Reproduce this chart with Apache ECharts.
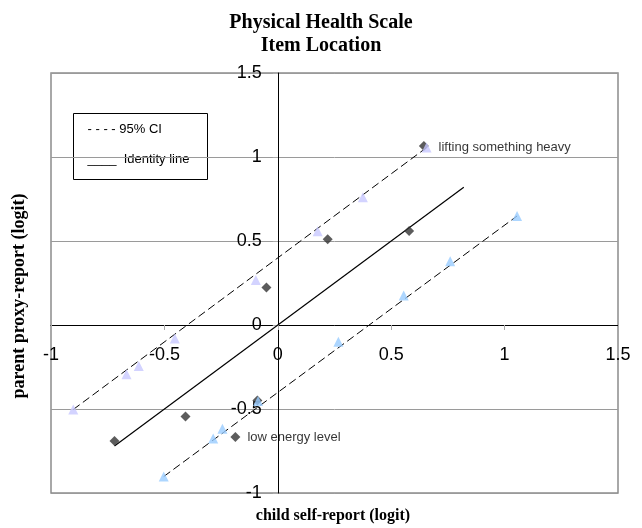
<!DOCTYPE html>
<html>
<head>
<meta charset="utf-8">
<script src="https://cdn.jsdelivr.net/npm/echarts@6/dist/echarts.min.js"></script>
<style>
  html, body { margin: 0; padding: 0; background: #fff; }
  #chart { width: 642px; height: 528px; }
</style>
</head>
<body>
<div id="chart"></div>
<script>
// Item locations: child self-report (x) vs parent proxy-report (y), in logits
const itemX = [-0.72, -0.407, -0.187, -0.09, -0.05, 0.22, 0.579, 0.644];
const itemY = [-0.69, -0.545, -0.667, -0.45, 0.223, 0.51, 0.560, 1.065];

// Upper 95% confidence limits
const upperX = [-0.902, -0.667, -0.613, -0.454, -0.097, 0.176, 0.375, 0.656];
const upperY = [-0.503, -0.293, -0.244, -0.081, 0.268, 0.558, 0.760, 1.056];

// Lower 95% confidence limits
const lowerX = [-0.503, -0.285, -0.244, -0.087, 0.267, 0.555, 0.76, 1.055];
const lowerY = [-0.902, -0.676, -0.617, -0.452, -0.10, 0.175, 0.38, 0.649];

// Identity line end points
const identityX = [-0.72, 0.82];
const identityY = [-0.72, 0.82];

// Axis ticks
const xTicks = [-1, -0.5, 0, 0.5, 1, 1.5];
const yTicks = [-1, -0.5, 0, 0.5, 1, 1.5];

// Labelled items
const labelledItems = [
  { series: 'upper', index: 7, text: 'lifting something heavy' },
  { series: 'item', index: 2, text: 'low energy level' }
];

const sansFont = '"Liberation Sans", Arial, sans-serif';
const serifFont = '"Liberation Serif", "Times New Roman", serif';

// Plot area box (pixels)
const W = 642, H = 528;
const grid = { left: 51, right: 24, top: 73, bottom: 35 };
const gridW = W - grid.left - grid.right;
const gridH = H - grid.top - grid.bottom;

const xMin = xTicks[0], xMax = xTicks[xTicks.length - 1];
const yMin = yTicks[0], yMax = yTicks[yTicks.length - 1];

// The axes cross at zero: shift each axis from the plot edge to the origin
const xAxisShift = -gridH * (0 - yMin) / (yMax - yMin);
const yAxisShift = -gridW * (0 - xMin) / (xMax - xMin);

function pairs(xs, ys) { return xs.map((x, i) => [x, ys[i]]); }

function withLabels(points, key) {
  return points.map((p, i) => {
    const hit = labelledItems.find(l => l.series === key && l.index === i);
    if (!hit) return p;
    return {
      value: p,
      label: {
        show: true, position: 'right', distance: 7,
        formatter: hit.text, color: '#000',
        fontFamily: sansFont, fontSize: 13
      }
    };
  });
}

const chart = echarts.init(document.getElementById('chart'), null, { renderer: 'canvas' });

const axisLabelStyle = { color: '#000', fontFamily: sansFont, fontSize: 18 };
const upperPts = pairs(upperX, upperY);
const lowerPts = pairs(lowerX, lowerY);

chart.setOption({
  animation: false,
  backgroundColor: '#fff',
  grid: Object.assign({
    show: true, borderColor: '#8c8c8c', borderWidth: 1.5, backgroundColor: '#fff'
  }, grid),
  xAxis: {
    type: 'value', position: 'bottom', offset: xAxisShift,
    min: xMin, max: xMax, interval: 0.5,
    axisLine: { show: true, onZero: false, lineStyle: { color: '#000', width: 1 } },
    axisTick: { show: true, length: 5, lineStyle: { color: '#aaa' } },
    axisLabel: Object.assign({ margin: 21 }, axisLabelStyle),
    splitLine: { show: false }
  },
  yAxis: {
    type: 'value', position: 'left', offset: yAxisShift,
    min: yMin, max: yMax, interval: 0.5,
    axisLine: { show: true, onZero: false, lineStyle: { color: '#000', width: 1 } },
    axisTick: { show: true, length: 5, lineStyle: { color: '#aaa' } },
    axisLabel: Object.assign({ margin: 16 }, axisLabelStyle),
    splitLine: { show: true, lineStyle: { color: '#9a9a9a', width: 1 } }
  },
  title: {
    text: 'Physical Health Scale\nItem Location',
    left: 'center', top: 6,
    textStyle: { fontFamily: serifFont, fontWeight: 'bold', fontSize: 20, lineHeight: 23, color: '#000' }
  },
  graphic: [
    {
      type: 'group', left: 73, top: 113, z: 100,
      children: [
        { type: 'rect', shape: { x: 0, y: 0, width: 134, height: 66 },
          style: { fill: '#fff', stroke: '#000', lineWidth: 1 } },
        { type: 'text', x: 14, y: 9,
          style: { text: '- - - - 95% CI', font: '13px ' + sansFont, fill: '#000' } },
        { type: 'text', x: 14, y: 39,
          style: { text: '____  Identity line', font: '13px ' + sansFont, fill: '#000' } }
      ]
    },
    {
      type: 'text', x: 333, y: 516, z: 100,
      style: { text: 'child self-report (logit)', font: 'bold 16px ' + serifFont, fill: '#000',
               textAlign: 'center', textVerticalAlign: 'middle' }
    },
    {
      type: 'text', x: 19, y: 296, rotation: Math.PI / 2, z: 100,
      style: { text: 'parent proxy-report (logit)', font: 'bold 18px ' + serifFont, fill: '#000',
               textAlign: 'center', textVerticalAlign: 'middle' }
    }
  ],
  series: [
    {
      name: 'upper line', type: 'line', symbol: 'none', silent: true, z: 2,
      data: [upperPts[0], upperPts[upperPts.length - 1]],
      lineStyle: { color: '#000', width: 1, type: [8, 4] }
    },
    {
      name: 'lower line', type: 'line', symbol: 'none', silent: true, z: 2,
      data: [lowerPts[0], lowerPts[lowerPts.length - 1]],
      lineStyle: { color: '#000', width: 1, type: [8, 4] }
    },
    {
      name: 'Identity line', type: 'line', symbol: 'none', silent: true, z: 2,
      data: pairs(identityX, identityY),
      lineStyle: { color: '#000', width: 1.2 }
    },
    {
      name: 'items', type: 'scatter', symbol: 'diamond', symbolSize: 10, z: 3,
      itemStyle: { color: '#333' },
      data: withLabels(pairs(itemX, itemY), 'item')
    },
    {
      name: 'upper 95% CI', type: 'scatter', symbol: 'triangle', symbolSize: 10, z: 4,
      itemStyle: { color: '#c8c8ff' },
      data: withLabels(upperPts, 'upper')
    },
    {
      name: 'lower 95% CI', type: 'scatter', symbol: 'triangle', symbolSize: 10, z: 4,
      itemStyle: { color: '#99ccff' },
      data: withLabels(lowerPts, 'lower')
    }
  ]
});
</script>
</body>
</html>
